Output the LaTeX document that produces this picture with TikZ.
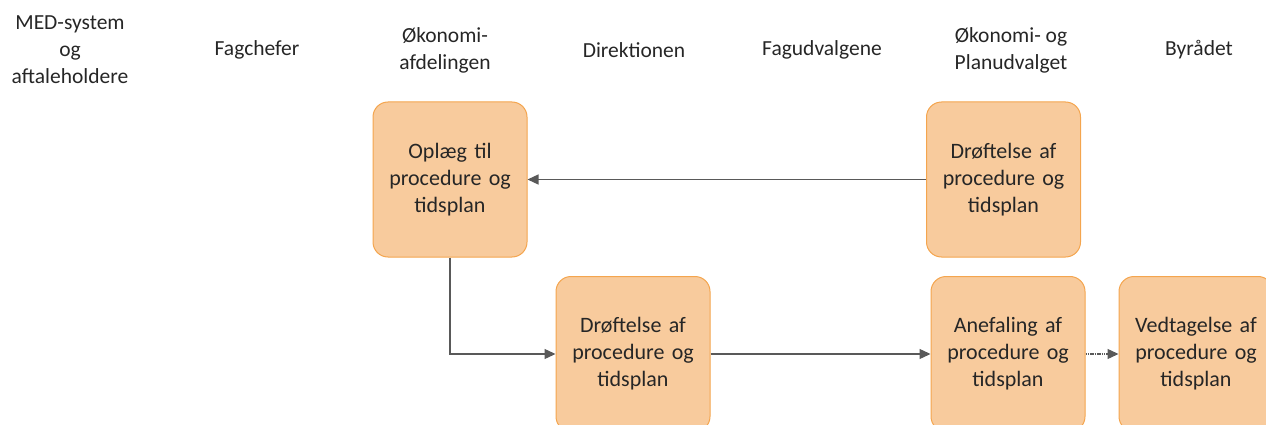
\documentclass[tikz,border=0pt]{standalone}
\usepackage{fontspec}
\setmainfont{Carlito}
\usetikzlibrary{arrows.meta}
\definecolor{boxfill}{HTML}{F8CB9D}
\definecolor{boxline}{HTML}{F4A54E}
\definecolor{arr}{HTML}{595959}
\definecolor{txt}{HTML}{262626}
\begin{document}
\begin{tikzpicture}[x=1pt,y=-1pt,
  every node/.style={text=txt, align=center},
  hdr/.style={inner sep=0pt, font=\fontsize{21.5}{27}\selectfont},
  pbox/.style={draw=boxline, fill=boxfill, line width=1pt, rounded corners=15pt,
    minimum width=154pt, minimum height=155pt, inner sep=0pt, text width=150pt,
    font=\fontsize{22}{27}\selectfont},
  conn/.style={draw=arr, line width=1.3pt, -{Triangle[length=11pt,width=10pt]}}]
\useasboundingbox (0,0) rectangle (1266,425);
\begin{scope}
\clip (0,0) rectangle (1266,425);
% headers
\node[hdr] (h1) at (70,50) {MED-system\\og\\aftaleholdere};
\node[hdr] (h2) at (257,50) {Fagchefer};
\node[hdr] (h3) at (445,50) {Økonomi-\\afdelingen};
\node[hdr] (h4) at (634,50) {Direktionen};
\node[hdr] (h5) at (822,50) {Fagudvalgene};
\node[hdr] (h6) at (1011,50) {Økonomi- og\\Planudvalget};
\node[hdr] (h7) at (1199,50) {Byrådet};
% boxes
\node[pbox] (op) at (450,179.5) {Oplæg til\\procedure og\\tidsplan};
\node[pbox] (d1) at (1003.5,179.5) {Drøftelse af\\procedure og\\tidsplan};
\node[pbox] (d2) at (633,354) {Drøftelse af\\procedure og\\tidsplan};
\node[pbox] (an) at (1008,354) {Anefaling af\\procedure og\\tidsplan};
\node[pbox] (ve) at (1196,354) {Vedtagelse af\\procedure og\\tidsplan};
% connectors
\draw[conn] (d1.west) -- (op.east);
\draw[conn] (op.south) |- (d2.west);
\draw[conn] (d2.east) -- (an.west);
\draw[conn, dash pattern=on 1.5pt off 0.8pt] (an.east) -- (ve.west);
\end{scope}
\end{tikzpicture}
\end{document}
